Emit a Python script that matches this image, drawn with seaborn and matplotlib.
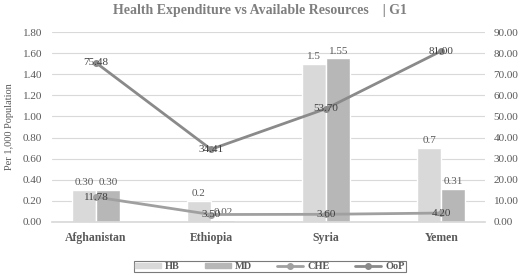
import matplotlib
matplotlib.use("Agg")
import matplotlib.pyplot as plt
import seaborn as sns
import pandas as pd
from matplotlib.ticker import FormatStrFormatter

countries = ["Afghanistan", "Ethiopia", "Syria", "Yemen"]
hb = [0.30, 0.2, 1.5, 0.7]
md = [0.30, 0.02, 1.55, 0.31]
hb_labels = ["0.30", "0.2", "1.5", "0.7"]
md_labels = ["0.30", "0.02", "1.55", "0.31"]
che = [11.78, 3.50, 3.60, 4.20]
oop = [75.48, 34.41, 53.70, 81.00]

sns.set_theme(style="white")
plt.rcParams["font.family"] = ["Liberation Serif", "DejaVu Serif"]

df = pd.DataFrame({
    "country": countries * 2,
    "value": hb + md,
    "series": ["HB"] * 4 + ["MD"] * 4,
})

txt = "#595959"
fig, ax = plt.subplots(figsize=(5.2, 2.76), dpi=100)
sns.barplot(data=df, x="country", y="value", hue="series",
            palette=["#d9d9d9", "#b7b7b7"], width=0.42, ax=ax,
            legend=False, zorder=2)

for cont, labs in zip(ax.containers, [hb_labels, md_labels]):
    ax.bar_label(cont, labels=labs, padding=2, fontsize=8, color=txt)

ax.set_ylim(0, 1.8)
ax.set_yticks([i * 0.2 for i in range(10)])
ax.yaxis.set_major_formatter(FormatStrFormatter("%.2f"))
ax.grid(axis="y", color="#d9d9d9", linewidth=0.8, zorder=0)
ax.set_axisbelow(True)
ax.set_xlabel("")
ax.set_ylabel("Per 1,000 Population", fontsize=7.5, color=txt, labelpad=6)
ax.tick_params(axis="y", labelsize=8, labelcolor=txt, length=0, pad=7)
ax.tick_params(axis="x", labelsize=8.5, labelcolor=txt, length=0, pad=7)
for lab in ax.get_xticklabels():
    lab.set_fontweight("bold")
for s in ax.spines.values():
    s.set_visible(False)
ax.spines["bottom"].set_visible(True)
ax.spines["bottom"].set_color("#d9d9d9")

ax2 = ax.twinx()
xs = list(range(len(countries)))
ax2.plot(xs, che, color="#a0a0a0", linewidth=2, marker="o", markersize=4, label="CHE", zorder=3)
ax2.plot(xs, oop, color="#8a8a8a", linewidth=2, marker="o", markersize=4, label="OoP", zorder=3)
for x, v in zip(xs, che):
    ax2.text(x, v, f"{v:.2f}", ha="center", va="center", fontsize=8, color="#404040")
for x, v in zip(xs, oop):
    ax2.text(x, v, f"{v:.2f}", ha="center", va="center", fontsize=8, color="#404040")
ax2.set_ylim(0, 90)
ax2.set_yticks(range(0, 91, 10))
ax2.yaxis.set_major_formatter(FormatStrFormatter("%.2f"))
ax2.tick_params(axis="y", labelsize=8, labelcolor=txt, length=0, pad=6)
for s in ax2.spines.values():
    s.set_visible(False)

handles = [
    plt.Rectangle((0, 0), 1, 1, color="#d9d9d9"),
    plt.Rectangle((0, 0), 1, 1, color="#b7b7b7"),
    plt.Line2D([], [], color="#a0a0a0", linewidth=2, marker="o", markersize=4),
    plt.Line2D([], [], color="#8a8a8a", linewidth=2, marker="o", markersize=4),
]
leg = fig.legend(handles, ["HB", "MD", "CHE", "OoP"], loc="lower center",
                 bbox_to_anchor=(0.519, -0.005), ncol=4, fontsize=7.5,
                 frameon=True, fancybox=False, edgecolor="#595959",
                 handlelength=2.5, columnspacing=2.4, borderpad=0.12,
                 handleheight=0.4, handletextpad=0.4)
for t in leg.get_texts():
    t.set_fontweight("bold")
    t.set_color(txt)
leg.get_frame().set_linewidth(0.8)

fig.suptitle("Health Expenditure vs Available Resources    | G1", fontsize=10,
             fontweight="bold", color="#7f7f7f", y=0.985)
fig.subplots_adjust(left=0.1, right=0.933, top=0.884, bottom=0.196)
fig.savefig("out.png", dpi=100)
